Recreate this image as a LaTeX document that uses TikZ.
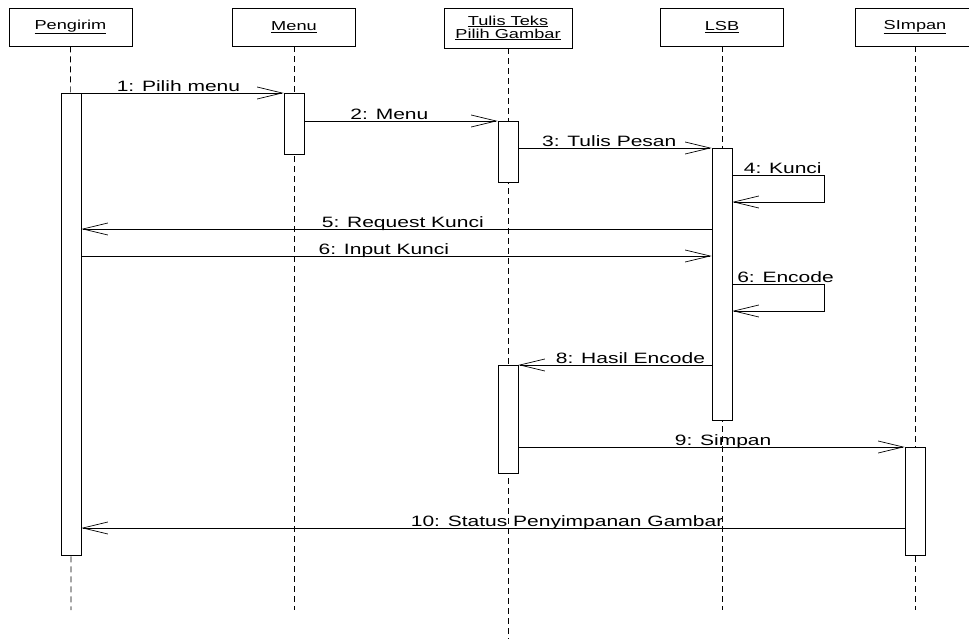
\documentclass[tikz,border=0pt]{standalone}
\usepackage{fontspec}
\setmainfont{Liberation Sans}[FakeStretch=1.4]
\usetikzlibrary{arrows.meta,positioning}

\begin{document}
\begin{tikzpicture}%
  [x=1pt, y=-1pt,
   >={Straight Barb[length=25pt,width=12pt]},
   line width=0.7pt,
   object/.style={draw, minimum width=123pt, minimum height=38pt, inner sep=0pt,
                  align=center, font=\fontsize{13}{14}\selectfont},
   lifeline/.style={dash pattern=on 6pt off 4pt, line width=0.6pt},
   activation/.style={draw, fill=white, minimum width=20pt, inner sep=0pt, anchor=north},
   msg/.style={above, text depth=0pt, inner ysep=1.5pt, inner xsep=0pt,
               font=\fontsize{15}{16}\selectfont}
  ]
\useasboundingbox (0,0) rectangle (969,639);

% objects
\node[object] (pengirim) at (70.5,27) {\underline{Pengirim}};
\node[object] (menu)     at (294,27)  {\underline{Menu}};
\node[object, minimum width=128pt, minimum height=40pt]
              (tulis)    at (508,28)  {\underline{Tulis Teks}\\[-1pt]\underline{Pilih Gambar}};
\node[object] (lsb)      at (722,27)  {\underline{LSB}};
\node[object, minimum width=120pt]
              (simpan)   at (915,27)  {\underline{SImpan}};

% lifelines
\coordinate (endP) at (71,610);
\coordinate (endM) at (294,610);
\coordinate (endT) at (508,639);
\coordinate (endL) at (722,610);
\coordinate (endS) at (915,610);
\draw[lifeline] (pengirim) -- (endP);
\draw[lifeline] (menu)     -- (endM);
\draw[lifeline] (tulis)    -- (endT);
\draw[lifeline] (lsb)      -- (endL);
\draw[lifeline] (simpan)   -- (endS);

% activations
\node[activation, minimum height=462pt] (actP)  at (71,93)   {};
\node[activation, minimum height=61pt]  (actM)  at (294,93)  {};
\node[activation, minimum height=61pt]  (actT1) at (508,121) {};
\node[activation, minimum height=272pt] (actL)  at (722,148) {};
\node[activation, minimum height=108pt] (actT2) at (508,365) {};
\node[activation, minimum height=108pt] (actS)  at (915,447) {};

% self messages
\coordinate (kunciA)  at (824,175);
\coordinate (kunciB)  at (824,202);
\coordinate (encodeA) at (824,284);
\coordinate (encodeB) at (824,311);

\path[->]
%   FROM                        LABEL                                            TO
   (actP.north east)      edge node[msg, pos=.48] {1: Pilih menu}                 (actM.north west)
   (actM.east |- actT1.north) edge node[msg, pos=.44] {2: Menu}                   (actT1.north west)
   (actT1.east |- actL.north) edge node[msg, pos=.47] {3: Tulis Pesan}            (actL.north west)
   (actL.west |- 0,229)   edge node[msg, pos=.49] {5: Request Kunci}              (actP.east |- 0,229)
   (actP.east |- 0,256)   edge node[msg, pos=.48] {6: Input Kunci}                (actL.west |- 0,256)
   (actL.west |- actT2.north) edge node[msg, pos=.42] {8: Hasil Encode}           (actT2.north east)
   (actT2.east |- actS.north) edge node[msg, pos=.53] {9: Simpan}                 (actS.north west)
   (actS.west |- 0,528)   edge node[msg, pos=.41] {10: Status Penyimpanan Gambar} (actP.east |- 0,528)
   ;

\draw[->] (actL.east |- kunciA) -- node[msg, pos=.55] {4: Kunci} (kunciA)
          -- (kunciB) -- (actL.east |- kunciB);
\draw[->] (actL.east |- encodeA) -- node[msg, pos=.58] {6: Encode} (encodeA)
          -- (encodeB) -- (actL.east |- encodeB);
\end{tikzpicture}
\end{document}
